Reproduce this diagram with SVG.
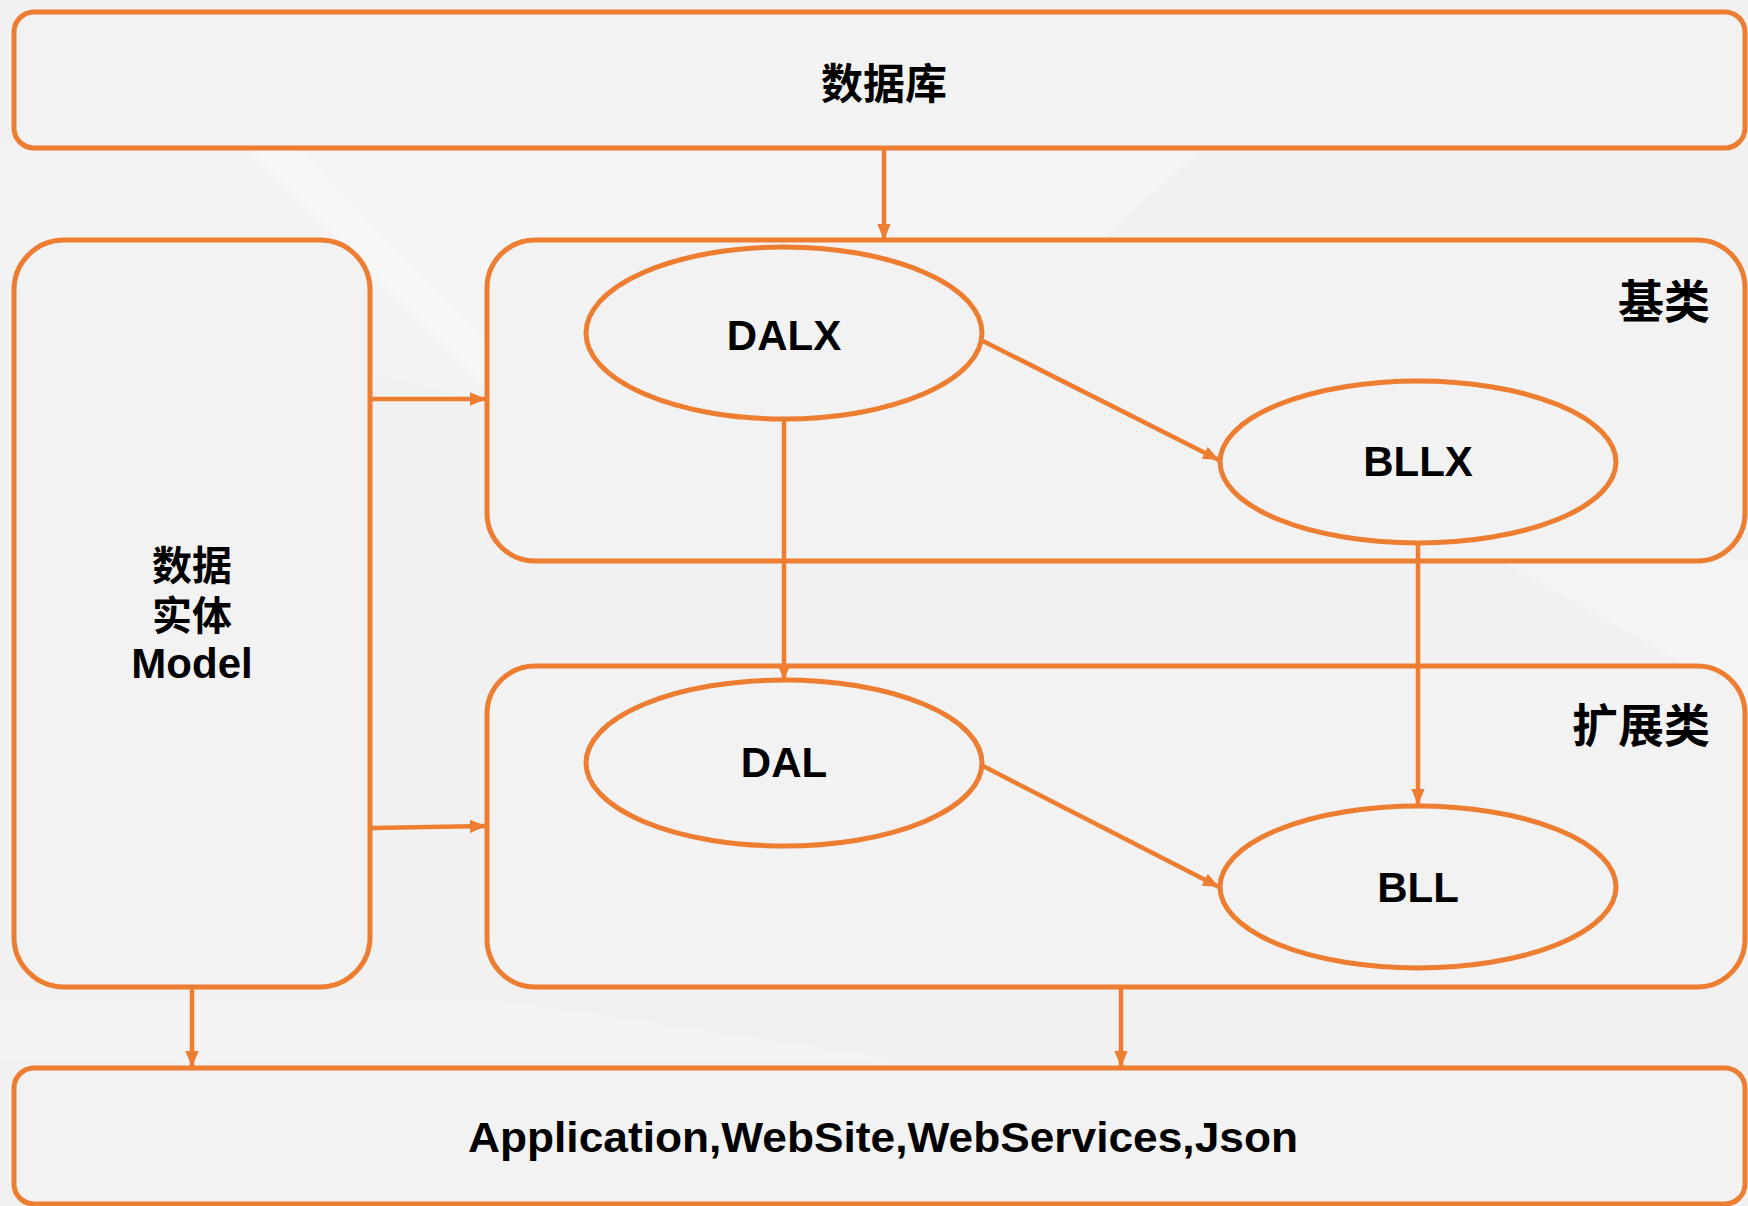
<svg xmlns="http://www.w3.org/2000/svg" width="1748" height="1206" viewBox="0 0 1748 1206">
  <style>
    .box { fill: #f2f2f2; stroke: #ED7D31; stroke-width: 5; }
    .node { fill: #f2f2f2; stroke: #ED7D31; stroke-width: 5; }
    .edge { fill: none; stroke: #ED7D31; stroke-width: 4.5; marker-end: url(#arrow); }
    .lbl { font-family: "Liberation Sans", "Noto Sans CJK SC", sans-serif; font-weight: bold; fill: #000; text-anchor: middle; dominant-baseline: central; }
    .cjk { font-family: "Noto Sans CJK SC", "Liberation Sans", sans-serif; font-weight: bold; fill: #000; text-anchor: middle; dominant-baseline: central; }
  </style>
  <defs>
    <marker id="arrow" viewBox="0 0 12 10" refX="12" refY="5" markerWidth="16" markerHeight="14" markerUnits="userSpaceOnUse" orient="auto">
      <path d="M0,0 L12,5 L0,10 z" fill="#ED7D31"/>
    </marker>
  </defs>

  <!-- page background with faint light facets -->
  <rect width="1748" height="1206" fill="#f1f1f1"/>
  <polygon points="250,150 1200,150 900,420 520,420" fill="#ffffff" opacity="0.3"/>
  <polygon points="0,150 300,150 560,420 0,280" fill="#ffffff" opacity="0.2"/>
  <polygon points="1100,540 1500,560 1748,700 1748,560" fill="#ffffff" opacity="0.25"/>
  <polygon points="0,1000 500,1000 900,1060 0,1060" fill="#ffffff" opacity="0.2"/>

  <g id="database">
    <rect class="box" x="14" y="12" width="1731" height="136" rx="20"/>
    <text class="cjk" x="884" y="80" font-size="42">数据库</text>
  </g>

  <g id="model">
    <rect class="box" x="14" y="240" width="356" height="747" rx="50"/>
    <text class="cjk" x="192" y="563" font-size="40">数据</text>
    <text class="cjk" x="192" y="613" font-size="40">实体</text>
    <text class="lbl" x="192" y="663" font-size="42">Model</text>
  </g>

  <g id="base-layer">
    <rect class="box" x="487" y="240" width="1258" height="321" rx="48"/>
    <text class="cjk" x="1664" y="298" font-size="46">基类</text>
  </g>

  <g id="ext-layer">
    <rect class="box" x="487" y="666" width="1258" height="321" rx="48"/>
    <text class="cjk" x="1641" y="722" font-size="46">扩展类</text>
  </g>

  <g id="app">
    <rect class="box" x="14" y="1068" width="1731" height="136" rx="20"/>
    <text class="lbl" x="883" y="1137" font-size="42" textLength="830" lengthAdjust="spacingAndGlyphs">Application,WebSite,WebServices,Json</text>
  </g>

  <g id="dalx">
    <ellipse class="node" cx="784" cy="333" rx="198" ry="86"/>
    <text class="lbl" x="784" y="335" font-size="42">DALX</text>
  </g>

  <g id="bllx">
    <ellipse class="node" cx="1418" cy="462" rx="198" ry="81"/>
    <text class="lbl" x="1418" y="461" font-size="42">BLLX</text>
  </g>

  <g id="dal">
    <ellipse class="node" cx="784" cy="763" rx="198" ry="83"/>
    <text class="lbl" x="784" y="762" font-size="42">DAL</text>
  </g>

  <g id="bll">
    <ellipse class="node" cx="1418" cy="887" rx="198" ry="81"/>
    <text class="lbl" x="1418" y="887" font-size="42">BLL</text>
  </g>

  <g id="connectors">
    <line class="edge" x1="884" y1="150" x2="884" y2="240"/>
    <line class="edge" x1="372" y1="399" x2="486" y2="399"/>
    <line class="edge" x1="372" y1="828" x2="486" y2="826"/>
    <line class="edge" x1="784" y1="420" x2="784" y2="680"/>
    <line class="edge" x1="983" y1="341" x2="1219" y2="460"/>
    <line class="edge" x1="1418" y1="544" x2="1418" y2="805"/>
    <line class="edge" x1="983" y1="766" x2="1219" y2="887"/>
    <line class="edge" x1="192" y1="989" x2="192" y2="1067"/>
    <line class="edge" x1="1121" y1="989" x2="1121" y2="1067"/>
  </g>
</svg>
